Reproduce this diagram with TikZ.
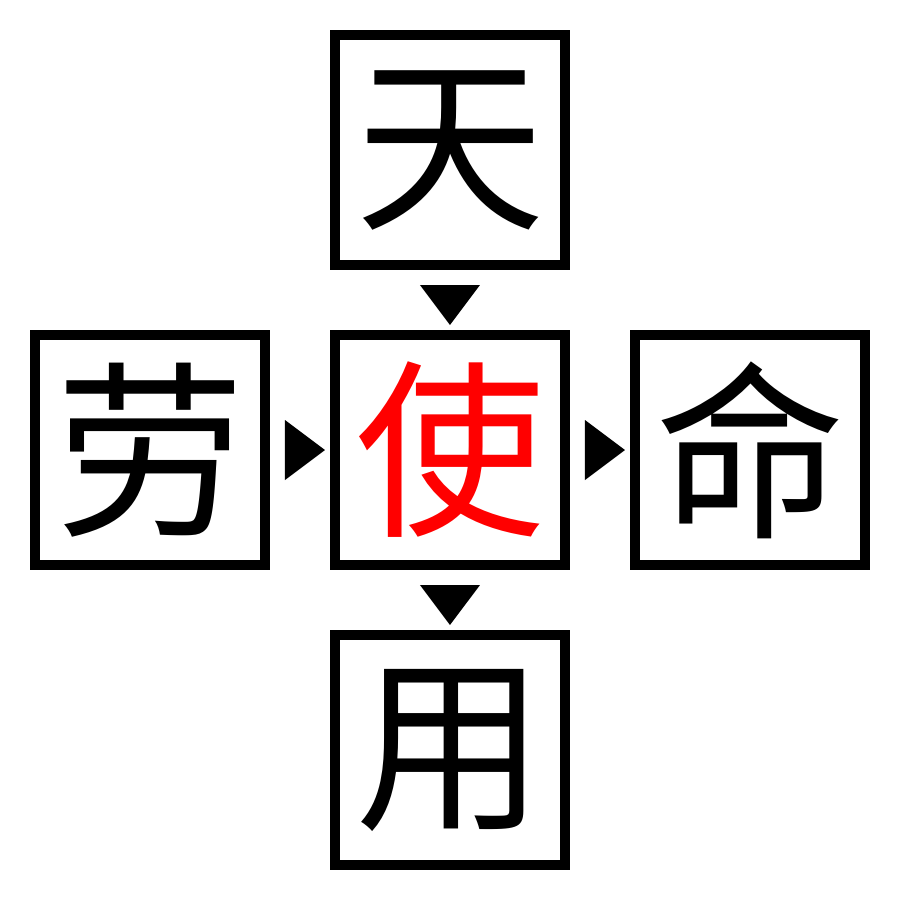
\documentclass[tikz,border=0pt]{standalone}
\usepackage{fontspec}
\setmainfont{Noto Sans CJK SC}
\usetikzlibrary{shapes.geometric}

\begin{document}
\begin{tikzpicture}[
    charbox/.style={draw,line width=0.1cm,minimum size=2.3cm,inner sep=0pt,
      font=\fontsize{54pt}{54pt}\selectfont},
    tri/.style={isosceles triangle,isosceles triangle stretches,fill=black,
      inner sep=0pt,minimum width=0.6cm,minimum height=0.4cm,sloped}]
  \useasboundingbox (-4.5,-4.5) rectangle (4.5,4.5);
  \draw
    (0.0, 3.0) node[charbox] (tian){天}
    (-3.0, 0.0) node[charbox] (lao){劳}
    (0.0, 0.0) node[charbox,text=red] (shi){使}
    (3.0, 0.0) node[charbox] (ming){命}
    (0.0, -3.0) node[charbox] (yong){用};
  \begin{scope}
    \path (tian) -- node[tri] {} (shi);
    \path (lao) -- node[tri] {} (shi);
    \path (shi) -- node[tri] {} (ming);
    \path (shi) -- node[tri] {} (yong);
  \end{scope}
\end{tikzpicture}
\end{document}
